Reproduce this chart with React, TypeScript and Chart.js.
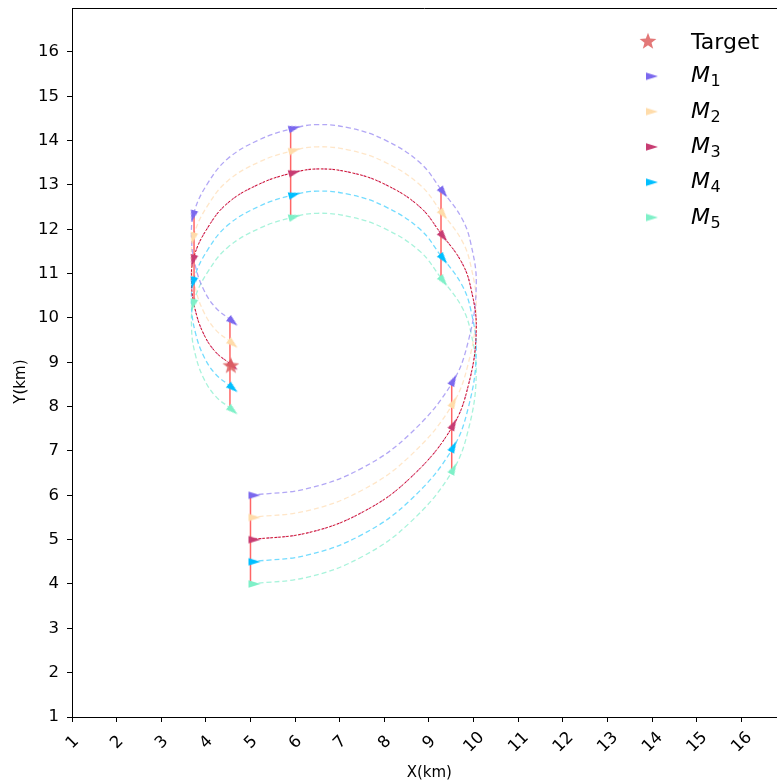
import React, { useEffect, useRef } from 'react';
import { Chart, registerables } from 'chart.js';

Chart.register(...registerables);

// ---- data ----
// centre (M3) trajectory, km
const pathX = [5.0, 6.31, 7.53, 8.58, 9.51, 9.89, 10.06, 9.94, 9.73, 9.27, 8.79, 8.0, 7.24, 6.5, 5.9, 5.2, 4.5, 4.05, 3.735, 3.68, 3.77, 3.96, 4.22, 4.54];
const pathY = [5.0, 5.16, 5.63, 6.39, 7.52, 8.51, 9.73, 10.67, 11.26, 11.9, 12.51, 13.02, 13.28, 13.36, 13.26, 13.02, 12.6, 12.05, 11.38, 10.75, 10.15, 9.62, 9.23, 8.97];

// snapshot instants (centre formation point)
const markerX = [5.0, 9.51, 9.27, 5.9, 3.735, 4.54];
const markerY = [5.0, 7.52, 11.9, 13.26, 11.38, 8.97];
const markerHeading = [0, -62, 52, -15, 105, 40];

// formation: vertical offset of each missile from the centre track
const seriesSubs = ['1', '2', '3', '4', '5'];
const seriesOffsets = [1, 0.5, 0, -0.5, -1];
const markerColors = ['#7b68ee', '#ffdcaa', '#c73c72', '#00bfff', '#7ff0c8'];
const trackColors = [
  'rgba(123,104,238,0.58)',
  'rgba(255,214,165,0.6)',
  'rgba(199,21,133,0.38)',
  'rgba(0,191,255,0.55)',
  'rgba(110,235,195,0.6)',
];

const targetX = [4.56];
const targetY = [8.93];
const targetLabel = 'Target';
const seriesPrefix = 'M';

const xTitle = 'X(km)';
const yTitle = 'Y(km)';
const xRange = [1, 16.8];
const yRange = [1, 16.99];
const tickMax = 16;

function makeTriangle(color: string): HTMLCanvasElement {
  const c = document.createElement('canvas');
  c.width = 24;
  c.height = 24;
  const g = c.getContext('2d')!;
  g.fillStyle = color;
  g.beginPath();
  g.moveTo(10, 8.2);
  g.lineTo(22, 12);
  g.lineTo(10, 15.8);
  g.closePath();
  g.fill();
  return c;
}

function makeStar(color: string): HTMLCanvasElement {
  const c = document.createElement('canvas');
  c.width = 20;
  c.height = 20;
  const g = c.getContext('2d')!;
  g.fillStyle = color;
  g.beginPath();
  for (let i = 0; i < 10; i++) {
    const a = (-90 + i * 36) * Math.PI / 180;
    const r = i % 2 === 0 ? 8.8 : 3.7;
    const px = 10 + r * Math.cos(a);
    const py = 10.6 + r * Math.sin(a);
    if (i === 0) g.moveTo(px, py); else g.lineTo(px, py);
  }
  g.closePath();
  g.fill();
  return c;
}

export default function App() {
  const ref = useRef<HTMLCanvasElement>(null);

  useEffect(() => {
    document.body.style.margin = '0';
    const canvas = ref.current!;
    const triImgs = markerColors.map((c) => makeTriangle(c));
    const starImg = makeStar('rgba(222,96,96,0.85)');

    const datasets: any[] = [];
    datasets.push({
      label: targetLabel,
      data: targetX.map((x, i) => ({ x, y: targetY[i] })),
      pointStyle: starImg,
      pointRadius: 8,
      order: -1,
    });
    seriesSubs.forEach((s, k) => {
      datasets.push({
        label: seriesPrefix + s,
        data: markerX.map((x, i) => ({ x, y: markerY[i] + seriesOffsets[k] })),
        pointStyle: triImgs[k],
        pointRadius: 6,
        pointRotation: markerHeading,
        order: 0,
      });
    });
    markerX.forEach((x, i) => {
      datasets.push({
        label: 'link',
        data: [
          { x, y: markerY[i] + seriesOffsets[0] },
          { x, y: markerY[i] + seriesOffsets[seriesOffsets.length - 1] },
        ],
        showLine: true,
        borderColor: 'rgba(255,30,30,0.68)',
        borderWidth: 1.5,
        pointRadius: 0,
        order: 1,
      });
    });
    datasets.push({
      label: 'target track',
      data: pathX.map((x, i) => ({ x, y: pathY[i] })),
      showLine: true,
      borderColor: 'rgba(200,0,20,0.9)',
      borderWidth: 1,
      borderDash: [2.5, 1.5],
      tension: 0.4,
      pointRadius: 0,
      order: 2,
    });
    seriesSubs.forEach((s, k) => {
      datasets.push({
        label: 'track ' + s,
        data: pathX.map((x, i) => ({ x, y: pathY[i] + seriesOffsets[k] })),
        showLine: true,
        borderColor: trackColors[k],
        borderWidth: 1.3,
        borderDash: [5, 3],
        tension: 0.4,
        pointRadius: 0,
        order: 3,
      });
    });

    const framePlugin = {
      id: 'frame',
      afterDraw(chart: any) {
        const { ctx, chartArea } = chart;
        ctx.save();
        ctx.strokeStyle = '#000';
        ctx.lineWidth = 1;
        ctx.beginPath();
        ctx.moveTo(chartArea.left, chartArea.top + 0.5);
        ctx.lineTo(chartArea.right, chartArea.top + 0.5);
        ctx.stroke();
        ctx.restore();
      },
    };

    const legendPlugin = {
      id: 'mathLegend',
      afterDraw(chart: any) {
        const { ctx, chartArea } = chart;
        const mx = chartArea.right - 129;
        const tx = chartArea.right - 86;
        let y = chartArea.top + 33;
        const step = 35.3;
        ctx.save();
        ctx.fillStyle = '#000';
        ctx.textBaseline = 'alphabetic';
        ctx.textAlign = 'left';
        ctx.drawImage(starImg, mx - starImg.width / 2, y - starImg.height / 2);
        ctx.font = '22px "DejaVu Sans"';
        ctx.fillText(targetLabel, tx, y + 7.5);
        seriesSubs.forEach((s, k) => {
          y += step;
          ctx.drawImage(triImgs[k], mx - 12, y - 12);
          ctx.font = 'italic 22px "DejaVu Sans"';
          ctx.fillText(seriesPrefix, tx, y + 6);
          const w = ctx.measureText(seriesPrefix).width;
          ctx.font = '16px "DejaVu Sans"';
          ctx.fillText(s, tx + w + 0.5, y + 10);
        });
        ctx.restore();
      },
    };

    const keepTicks = (s: any) => {
      s.ticks = s.ticks.filter((t: any) => t.value <= tickMax);
    };

    const chart = new Chart(canvas, {
      type: 'scatter',
      data: { datasets },
      options: {
        animation: false,
        responsive: false,
        devicePixelRatio: 1,
        events: [],
        layout: { autoPadding: false, padding: { top: 8, right: 0, left: 0, bottom: 0 } },
        plugins: {
          legend: { display: false },
          tooltip: { enabled: false },
        },
        scales: {
          x: {
            type: 'linear',
            min: xRange[0],
            max: xRange[1],
            afterBuildTicks: keepTicks,
            afterFit: (s: any) => {
              s.height = 67;
              s.paddingLeft = 0;
              s.paddingRight = 0;
            },
            border: { display: true, color: '#000', width: 1 },
            grid: { display: true, drawOnChartArea: false, drawTicks: true, tickLength: 5, tickColor: '#000', tickWidth: 1 },
            ticks: {
              stepSize: 1,
              includeBounds: false,
              autoSkip: false,
              minRotation: 45,
              maxRotation: 45,
              labelOffset: 8,
              padding: 6,
              color: '#000',
              font: { family: 'DejaVu Sans', size: 16.5 },
              callback: (v: any) => (Math.abs(v) < 10 ? String(v) + ' ' : String(v)),
            },
            title: {
              display: true,
              text: '  ' + xTitle,
              color: '#000',
              font: { family: 'DejaVu Sans', size: 15 },
              padding: { top: 0, bottom: 2 },
            },
          },
          y: {
            type: 'linear',
            min: yRange[0],
            max: yRange[1],
            afterBuildTicks: keepTicks,
            afterFit: (s: any) => {
              s.width = 72;
              s.paddingTop = 0;
              s.paddingBottom = 0;
            },
            border: { display: true, color: '#000', width: 1 },
            grid: { display: true, drawOnChartArea: false, drawTicks: true, tickLength: 5, tickColor: '#000', tickWidth: 1 },
            ticks: {
              stepSize: 1,
              includeBounds: false,
              padding: 8,
              color: '#000',
              font: { family: 'DejaVu Sans', size: 16.5 },
            },
            title: {
              display: true,
              text: yTitle + '        ',
              color: '#000',
              font: { family: 'DejaVu Sans', size: 15 },
              padding: { top: 12, bottom: 0 },
            },
          },
        },
      },
      plugins: [framePlugin, legendPlugin],
    } as any);

    return () => chart.destroy();
  }, []);

  return (
    <canvas
      ref={ref}
      width={777}
      height={784}
      style={{ display: 'block', width: 777, height: 784 }}
    />
  );
}
